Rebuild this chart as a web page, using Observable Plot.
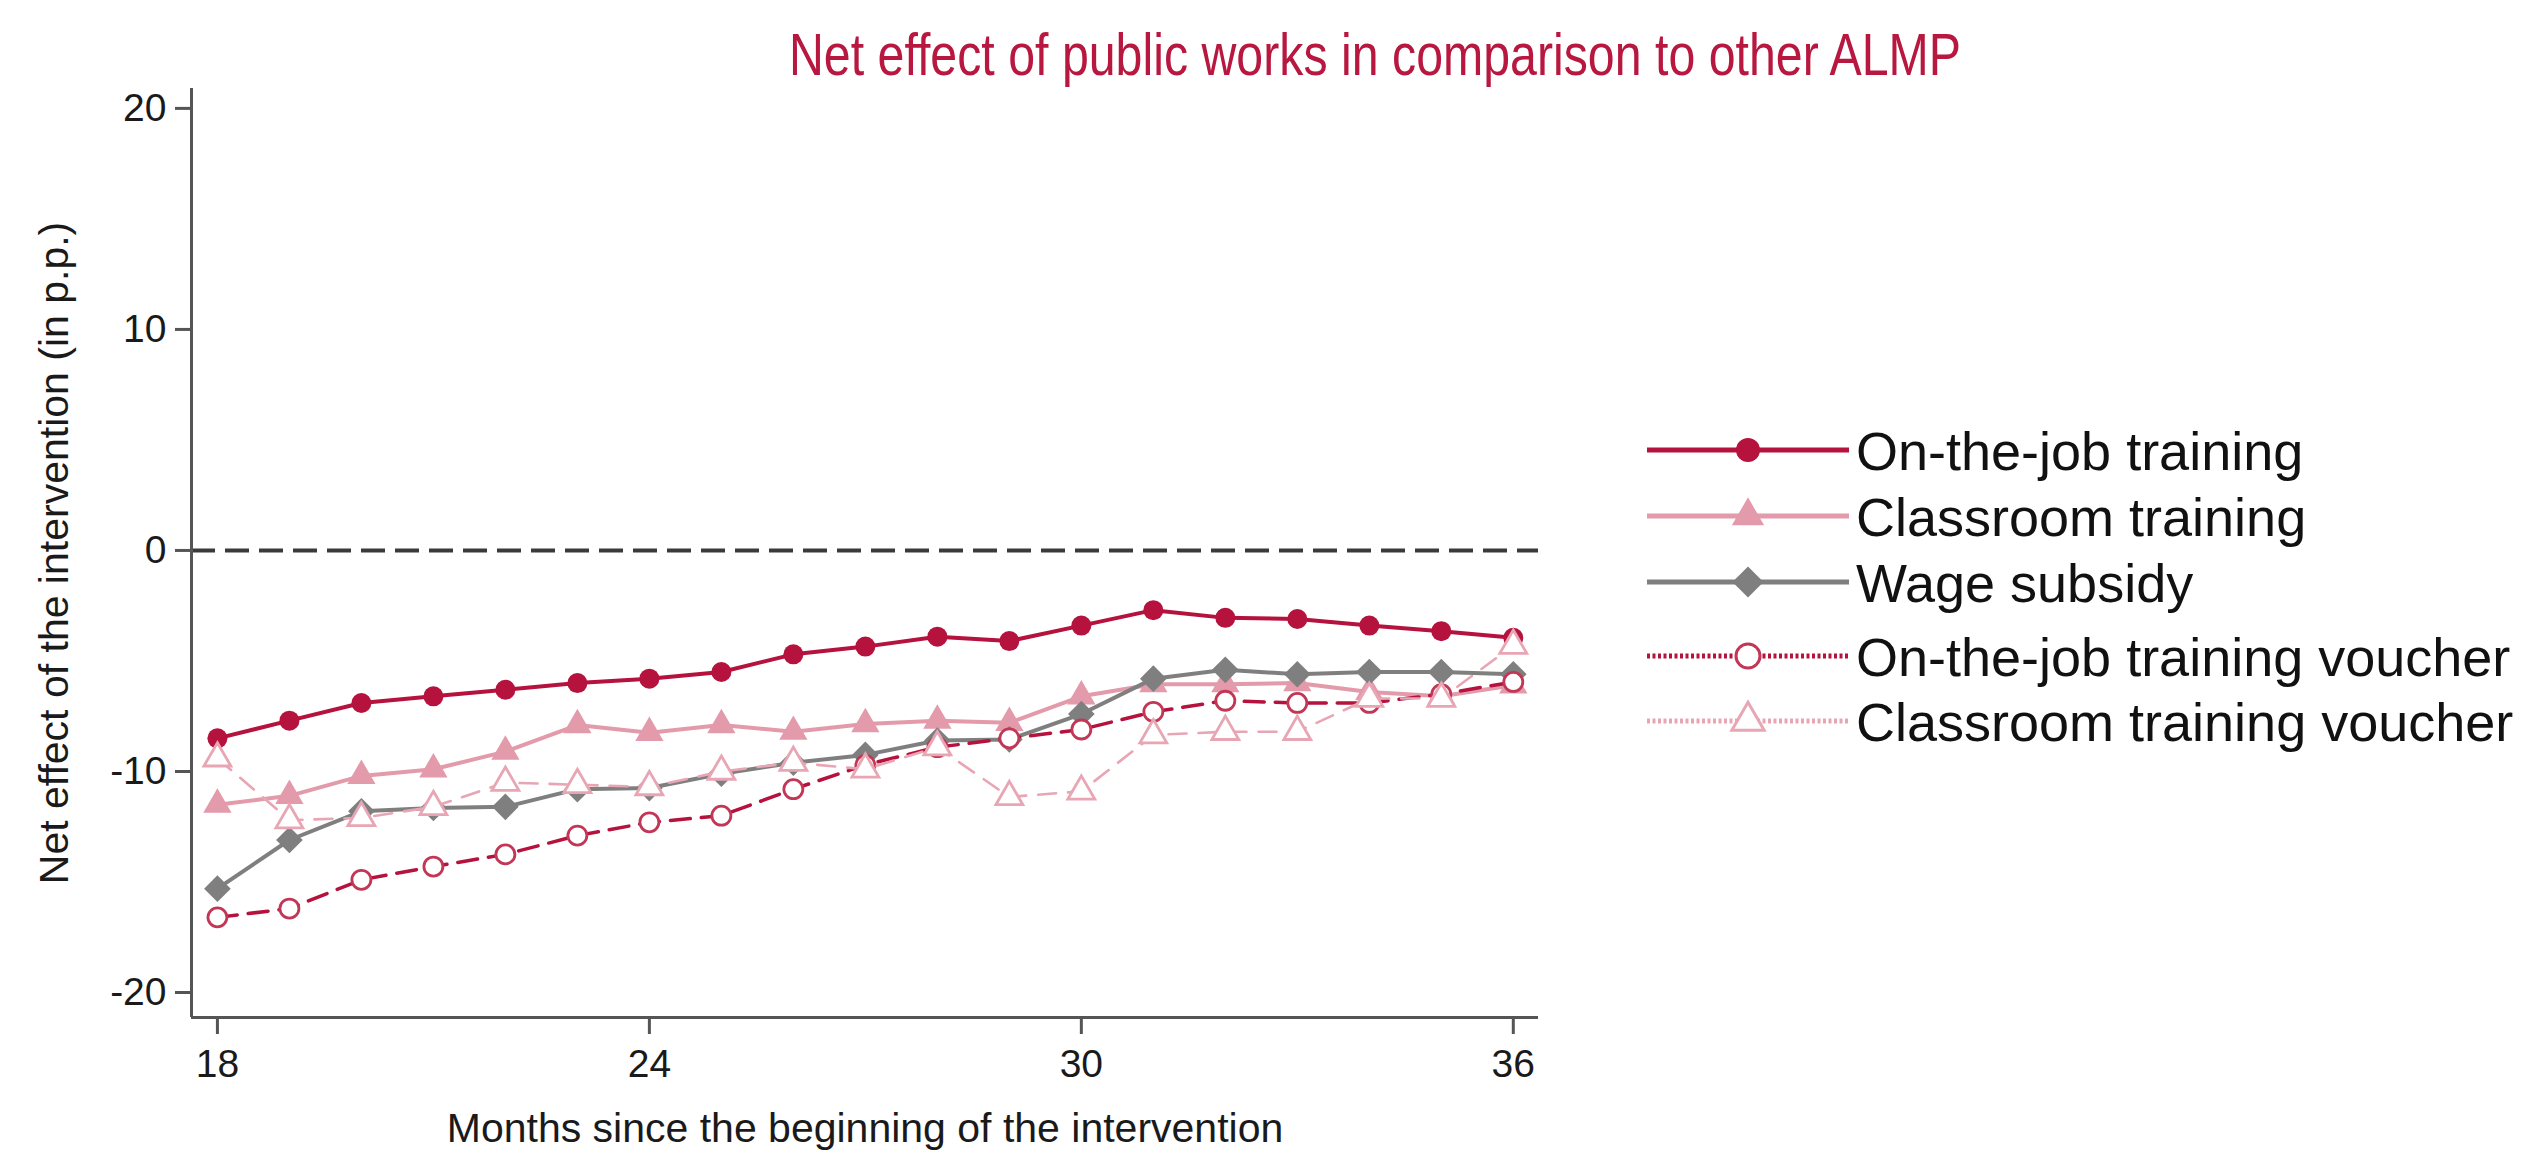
<!DOCTYPE html>
<html>
<head>
<meta charset="utf-8">
<script src="https://cdn.jsdelivr.net/npm/d3@7"></script>
<script src="https://cdn.jsdelivr.net/npm/@observablehq/plot@0.6"></script>
<style>
  body { margin: 0; background: #fff; }
  #wrap { position: relative; width: 2524px; height: 1152px; overflow: hidden; background: #fff;
          font-family: "Liberation Sans", Arial, sans-serif; }
  #titlebox svg, #plotbox svg { display: block; }
  #legendbox { position: absolute; left: 1620px; top: 400px; }
</style>
</head>
<body>
<div id="wrap">
  <div id="titlebox"></div>
  <div id="plotbox"></div>
  <div id="legendbox"></div>
</div>
<script>
// ---------------- data ----------------
const titleText = "Net effect of public works in comparison to other ALMP";
const xLabel = "Months since the beginning of the intervention";
const yLabel = "Net effect of the intervention (in p.p.)";

const months = [18, 19, 20, 21, 22, 23, 24, 25, 26, 27, 28, 29, 30, 31, 32, 33, 34, 35, 36];
const seriesNames = [
  "On-the-job training",
  "Classroom training",
  "Wage subsidy",
  "On-the-job training voucher",
  "Classroom training voucher"
];
const onTheJob        = [-8.5, -7.7, -6.9, -6.6, -6.3, -6.0, -5.8, -5.5, -4.7, -4.35, -3.9, -4.1, -3.4, -2.7, -3.05, -3.1, -3.4, -3.65, -3.95];
const classroom       = [-11.5, -11.1, -10.2, -9.9, -9.1, -7.9, -8.25, -7.9, -8.2, -7.85, -7.7, -7.8, -6.6, -6.05, -6.05, -6.0, -6.4, -6.6, -6.1];
const wageSubsidy     = [-15.3, -13.1, -11.8, -11.65, -11.6, -10.8, -10.75, -10.1, -9.6, -9.25, -8.6, -8.55, -7.4, -5.8, -5.4, -5.6, -5.5, -5.5, -5.6];
const onTheJobVoucher = [-16.6, -16.2, -14.9, -14.3, -13.75, -12.9, -12.3, -12.0, -10.8, -9.7, -8.9, -8.5, -8.1, -7.3, -6.8, -6.9, -6.9, -6.5, -5.95];
const classVoucher    = [-9.4, -12.2, -12.1, -11.6, -10.5, -10.6, -10.7, -10.0, -9.6, -9.9, -8.9, -11.15, -10.9, -8.35, -8.2, -8.2, -6.7, -6.7, -4.3];
const seriesValues = [onTheJob, classroom, wageSubsidy, onTheJobVoucher, classVoucher];

const xTicks = [18, 24, 30, 36];
const yTicks = [-20, -10, 0, 10, 20];
const xDomain = [17.64, 36.35];
const yDomain = [-21.13, 20.9];
const zeroLine = [0];

// ---------------- styles ----------------
const colors      = ["#B5123E", "#E39AAA", "#7F7F7F", "#B5123E", "#E8A6B4"];
const markerStroke= ["#B5123E", "#E39AAA", "#7F7F7F", "#C23656", "#E8A6B4"];
const symbols     = ["circle", "triangle", "diamond2", "circle", "triangle"];
const filled      = [true, true, true, false, false];
const lineWidths  = [4, 4, 4, 3.5, 2.6];
const dashes      = [null, null, null, "20,11", "18,12"];
const markerR     = [10, 10.5, 12, 9.5, 10];
const fontStack   = '"Liberation Sans", Arial, sans-serif';

// ---------------- table ----------------
const rows = seriesNames.flatMap((name, s) =>
  months.map((m, i) => ({ month: m, value: seriesValues[s][i], series: name }))
);

const seriesMarks = seriesNames.flatMap((name, s) => {
  const d = rows.filter(r => r.series === name);
  return [
    Plot.line(d, { x: "month", y: "value", stroke: colors[s], strokeWidth: lineWidths[s],
                   strokeDasharray: dashes[s] ?? undefined, strokeLinejoin: "round" }),
    Plot.dot(d, { x: "month", y: "value", symbol: symbols[s], r: markerR[s],
                  fill: filled[s] ? colors[s] : "#fff",
                  stroke: filled[s] ? "none" : markerStroke[s],
                  strokeWidth: filled[s] ? 0 : 2.8 })
  ];
});

// ---------------- title ----------------
const titleSvg = d3.create("svg").attr("width", 2524).attr("height", 88);
titleSvg.append("text")
  .attr("x", 1375).attr("y", 75)
  .attr("text-anchor", "middle")
  .attr("font-family", fontStack)
  .attr("font-size", 60)
  .attr("fill", "#B8173F")
  .text(titleText);
document.getElementById("titlebox").appendChild(titleSvg.node());
titleSvg.select("text").attr("textLength", 1172).attr("lengthAdjust", "spacingAndGlyphs");

// ---------------- plot ----------------
const chart = Plot.plot({
  width: 2524,
  height: 1064,
  marginTop: 0,
  marginLeft: 191,
  marginRight: 986,
  marginBottom: 135,
  style: { fontFamily: fontStack, fontSize: "39px", background: "#fff", color: "#1a1a1a", overflow: "visible" },
  x: { domain: xDomain },
  y: { domain: yDomain },
  marks: [
    Plot.ruleY(zeroLine, { stroke: "#3a3a3a", strokeWidth: 4, strokeDasharray: "24,10" }),
    ...seriesMarks,
    Plot.ruleX([xDomain[0]], { stroke: "#555", strokeWidth: 3 }),
    Plot.ruleY([yDomain[0]], { stroke: "#555", strokeWidth: 3 }),
    Plot.axisX({ ticks: xTicks, tickSize: 17, tickPadding: 15, stroke: "#555", strokeWidth: 3,
                 tickFormat: d => String(d), label: null }),
    Plot.axisY({ ticks: yTicks, tickSize: 16, tickPadding: 9, stroke: "#555", strokeWidth: 3,
                 tickFormat: d => String(d), label: null }),
    Plot.text([xLabel], { text: d => d, frameAnchor: "bottom", textAnchor: "middle", dy: 124,
                          lineAnchor: "bottom", fontSize: 41, fill: "#1a1a1a" }),
    Plot.text([yLabel], { text: d => d, frameAnchor: "left", textAnchor: "middle", dx: -124, rotate: -90,
                          lineAnchor: "bottom", fontSize: 41, fill: "#1a1a1a" })
  ]
});
document.getElementById("plotbox").appendChild(chart);

// ---------------- legend ----------------
const legendRowsY = [50, 116, 182, 256, 321];
const leg = d3.create("svg").attr("width", 904).attr("height", 380)
  .attr("font-family", fontStack);
const symMap = { circle: d3.symbolCircle, triangle: d3.symbolTriangle, diamond2: d3.symbolDiamond2 };
const legendR = [12, 12, 14, 12, 12];
seriesNames.forEach((name, s) => {
  const y = legendRowsY[s];
  const g = leg.append("g");
  g.append("line").attr("x1", 27).attr("x2", 229).attr("y1", y).attr("y2", y)
    .attr("stroke", colors[s]).attr("stroke-width", 5)
    .attr("stroke-dasharray", dashes[s] ? "3,2.5" : null);
  const r = legendR[s];
  g.append("path")
    .attr("transform", `translate(128,${y})`)
    .attr("d", d3.symbol(symMap[symbols[s]], Math.PI * r * r)())
    .attr("fill", filled[s] ? colors[s] : "#fff")
    .attr("stroke", filled[s] ? "none" : markerStroke[s])
    .attr("stroke-width", filled[s] ? 0 : 3);
  g.append("text").attr("x", 236).attr("y", y + 20)
    .attr("font-size", 54).attr("fill", "#111")
    .text(name);
});
document.getElementById("legendbox").appendChild(leg.node());
</script>
</body>
</html>
